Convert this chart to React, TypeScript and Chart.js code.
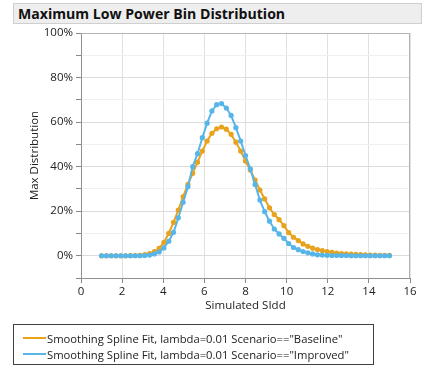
import React, { useEffect, useRef } from "react";
import { Chart, registerables } from "chart.js";

Chart.register(...registerables);

const xValues = [
  1.0, 1.233, 1.467, 1.7, 1.933, 2.167, 2.4, 2.633, 2.867, 3.1, 3.333, 3.567, 3.8, 4.033, 4.267, 4.5,
  4.733, 4.967, 5.2, 5.433, 5.667, 5.9, 6.133, 6.367, 6.6, 6.833, 7.067, 7.3, 7.533, 7.767, 8.0,
  8.233, 8.467, 8.7, 8.933, 9.167, 9.4, 9.633, 9.867, 10.1, 10.333, 10.567, 10.8, 11.033, 11.267,
  11.5, 11.733, 11.967, 12.2, 12.433, 12.667, 12.9, 13.133, 13.367, 13.6, 13.833, 14.067, 14.3,
  14.533, 14.767, 15.0,
];

const baseline = [
  0, 0, 0, 0, 0, 0, 0.05, 0.1, 0.2, 0.5, 1.0, 1.8, 3.3, 6.0, 10.0, 15.0,
  20.5, 26.5, 32.0, 37.0, 42.0, 47.0, 51.5, 55.0, 57.0, 57.8, 56.8, 54.5, 51.0, 47.0, 42.5,
  38.5, 34.0, 29.5, 25.5, 21.5, 18.5, 16.2, 13.5, 10.4, 8.3, 6.8, 5.3, 4.2, 3.4,
  2.8, 2.3, 1.9, 1.5, 1.2, 1.0, 0.8, 0.7, 0.6, 0.5, 0.4, 0.3, 0.3,
  0.2, 0.2, 0.2,
];

const improved = [
  0, 0, 0, 0, 0, 0, 0, 0, 0, 0.1, 0.3, 0.8, 1.7, 3.5, 6.5, 10.5,
  17.0, 24.0, 31.0, 40.0, 45.8, 53.0, 59.5, 65.0, 67.8, 68.3, 66.3, 63.0, 57.5, 51.5, 45.0,
  39.0, 32.0, 25.0, 19.8, 15.5, 12.0, 9.8, 7.8, 5.5, 3.7, 2.7, 1.9, 1.3, 0.8,
  0.4, 0.3, 0.2, 0.1, 0.1, 0.1, 0.1, 0, 0, 0, 0, 0, 0,
  0, 0, 0,
];

const xTicks = [0, 2, 4, 6, 8, 10, 12, 14, 16];
const yTicks = [-10, 0, 10, 20, 30, 40, 50, 60, 70, 80, 90, 100];

const seriesNames = [
  'Smoothing Spline Fit, lambda=0.01 Scenario=="Baseline"',
  'Smoothing Spline Fit, lambda=0.01 Scenario=="Improved"',
];
const ORANGE = "#E9A21B";
const BLUE = "#58B5E8";
const FONT = "'Open Sans', sans-serif";

const framePlugin = {
  id: "frame",
  afterDraw(chart: any) {
    const { ctx, chartArea } = chart;
    ctx.save();
    ctx.strokeStyle = "#b4b4b4";
    ctx.lineWidth = 1;
    ctx.beginPath();
    ctx.moveTo(chartArea.left, chartArea.top + 0.5);
    ctx.lineTo(chartArea.right - 0.5, chartArea.top + 0.5);
    ctx.lineTo(chartArea.right - 0.5, chartArea.bottom);
    ctx.stroke();
    ctx.restore();
  },
};

export default function App() {
  const ref = useRef<HTMLCanvasElement | null>(null);
  useEffect(() => {
    if (!ref.current) return;
    const toPts = (ys: number[]) => xValues.map((x, i) => ({ x, y: ys[i] }));
    const chart = new Chart(ref.current, {
      type: "scatter",
      data: {
        datasets: [
          {
            label: seriesNames[0],
            data: toPts(baseline),
            borderColor: ORANGE,
            backgroundColor: ORANGE,
            showLine: true,
            borderWidth: 2,
            pointRadius: 2.6,
            pointBorderWidth: 0,
            order: 1,
          },
          {
            label: seriesNames[1],
            data: toPts(improved),
            borderColor: BLUE,
            backgroundColor: BLUE,
            showLine: true,
            borderWidth: 2,
            pointRadius: 2.6,
            pointBorderWidth: 0,
            order: 0,
          },
        ],
      },
      options: {
        animation: false,
        responsive: false,
        maintainAspectRatio: false,
        layout: { padding: { left: 0, top: 33, right: 17, bottom: 48 } },
        plugins: { legend: { display: false }, tooltip: { enabled: false } },
        scales: {
          x: {
            type: "linear",
            min: 0,
            max: 16,
            afterBuildTicks: (s: any) => {
              s.ticks = xTicks.map((v) => ({ value: v }));
            },
            afterFit: (s: any) => {
              s.height = 42;
            },
            ticks: { color: "#222", font: { family: FONT, size: 11.5 }, padding: 2, maxRotation: 0 },
            grid: { color: "#e0e0e0", tickColor: "#888", tickLength: 5 },
            border: { color: "#909090" },
            title: {
              display: true,
              text: "Simulated SIdd",
              color: "#222",
              font: { family: FONT, size: 11.5 },
              padding: { top: 0, bottom: 7 },
            },
          },
          y: {
            type: "linear",
            min: -10,
            max: 100,
            afterBuildTicks: (s: any) => {
              s.ticks = yTicks.map((v) => ({ value: v }));
            },
            afterFit: (s: any) => {
              s.width = 81;
            },
            ticks: {
              color: "#222",
              font: { family: FONT, size: 11.5 },
              padding: 3,
              callback: (v: any) => (v >= 0 && v % 20 === 0 ? v + "%" : ""),
            },
            grid: {
              color: (c: any) => (c.tick && c.tick.value % 20 === 0 ? "#dcdcdc" : "#f0f0f0"),
              tickColor: "#888",
              tickLength: 5,
            },
            border: { color: "#909090" },
            title: {
              display: true,
              text: "Max Distribution",
              color: "#222",
              font: { family: FONT, size: 11.5 },
              padding: { top: 28, bottom: 0 },
            },
          },
        },
      },
      plugins: [framePlugin],
    });
    return () => chart.destroy();
  }, []);

  return (
    <div style={{ position: "absolute", left: 0, top: 0, width: 427, height: 368, background: "#fff", fontFamily: FONT }}>
      <canvas ref={ref} width={427} height={368} style={{ position: "absolute", left: 0, top: 0, width: 427, height: 368 }} />
      <div
        style={{
          position: "absolute",
          left: 13,
          top: 3,
          width: 409,
          height: 21,
          background: "#eeeeee",
          border: "1px solid #cfcfcf",
          boxSizing: "border-box",
          fontWeight: 700,
          fontSize: 14.1,
          lineHeight: "19px",
          paddingLeft: 4,
          color: "#111",
          whiteSpace: "nowrap",
        }}
      >
        Maximum Low Power Bin Distribution
      </div>
      <div
        style={{
          position: "absolute",
          left: 13,
          top: 324,
          width: 361,
          height: 41,
          border: "1px solid #404040",
          boxSizing: "border-box",
          fontSize: 11.25,
          color: "#222",
        }}
      >
        {seriesNames.map((name, i) => (
          <div key={i} style={{ position: "absolute", left: 9, top: 5 + i * 16, height: 16, display: "flex", alignItems: "center", whiteSpace: "nowrap" }}>
            <span style={{ display: "inline-block", width: 23, height: 2, background: i === 0 ? ORANGE : BLUE, marginRight: 1 }} />
            <span>{name}</span>
          </div>
        ))}
      </div>
    </div>
  );
}
